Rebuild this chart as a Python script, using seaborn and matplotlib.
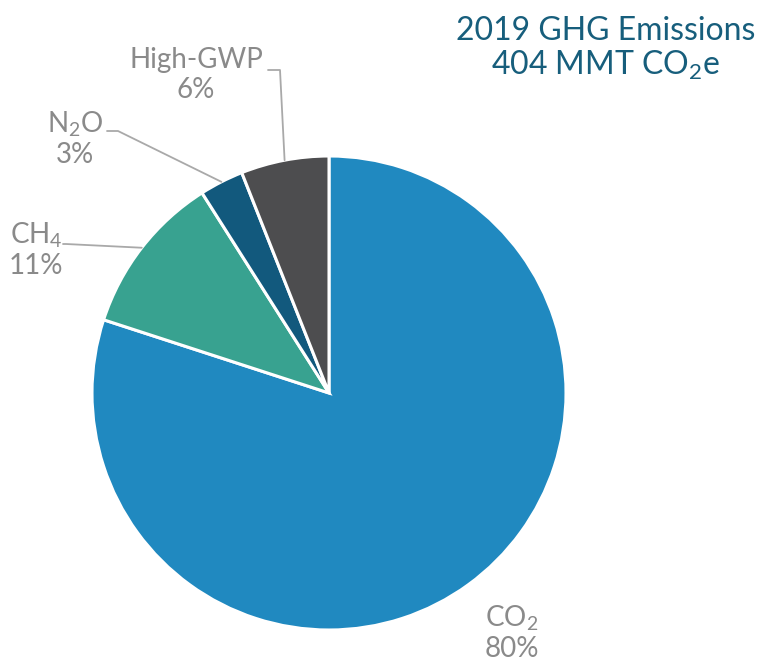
import numpy as np
import matplotlib
matplotlib.use("Agg")
import matplotlib.pyplot as plt
import seaborn as sns

sns.set_theme(style="white")
plt.rcParams['font.family'] = ['Lato', 'DejaVu Sans']
plt.rcParams['mathtext.default'] = 'regular'

# datos (sentido horario desde arriba)
gases = ["CO$_2$", "CH$_4$", "N$_2$O", "High-GWP"]
shares = [80, 11, 3, 6]
colores = ["#2089c0", "#38a290", "#12597d", "#4d4d4f"]
etiquetas_pct = ["80%", "11%", "3%", "6%"]

fig = plt.figure(figsize=(7.7, 6.64), dpi=100)
W, H = 770, 664
cx, cy, R = 329, 393, 237
ax = fig.add_axes([(cx - R) / W, (H - cy - R) / H, 2 * R / W, 2 * R / H])

wedges, _ = ax.pie(shares, colors=colores, startangle=90, counterclock=False,
                   radius=1, wedgeprops={'edgecolor': 'white', 'linewidth': 2.2})
ax.set_xlim(-1, 1)
ax.set_ylim(-1, 1)
ax.set_aspect('equal')
ax.axis('off')


def px(x, y):
    # pixeles de la imagen -> coordenadas del eje
    return (x - cx) / R, (cy - y) / R


gris = "#8a8a8a"
linea = "#a9a9a9"
# posicion de texto (px) y codo de la linea guia (px) para cada gas
txt_pos = {"CO$_2$": (512, 633), "CH$_4$": (36, 250), "N$_2$O": (75, 139),
           "High-GWP": (196, 75)}
codos = {"CH$_4$": [(66, 244), (63, 244)], "N$_2$O": [(118, 131), (107, 131)],
         "High-GWP": [(280, 70), (268, 70)]}

for w, g, p in zip(wedges, gases, etiquetas_pct):
    ang = np.deg2rad((w.theta1 + w.theta2) / 2)
    if g in codos:
        xs = [np.cos(ang)] + [px(*c)[0] for c in codos[g]]
        ys = [np.sin(ang)] + [px(*c)[1] for c in codos[g]]
        ax.plot(xs, ys, color=linea, lw=1.3, clip_on=False)
    tx, ty = px(*txt_pos[g])
    ax.text(tx, ty, f"{g}\n{p}", ha='center', va='center', fontsize=20,
            color=gris, linespacing=1.15, fontweight='normal')

fig.text(606 / W, 1 - 49 / H, "2019 GHG Emissions\n404 MMT CO$_2$e",
         ha='center', va='center', fontsize=23, color="#175e7c",
         linespacing=1.15)

fig.savefig("out.png", dpi=100)
